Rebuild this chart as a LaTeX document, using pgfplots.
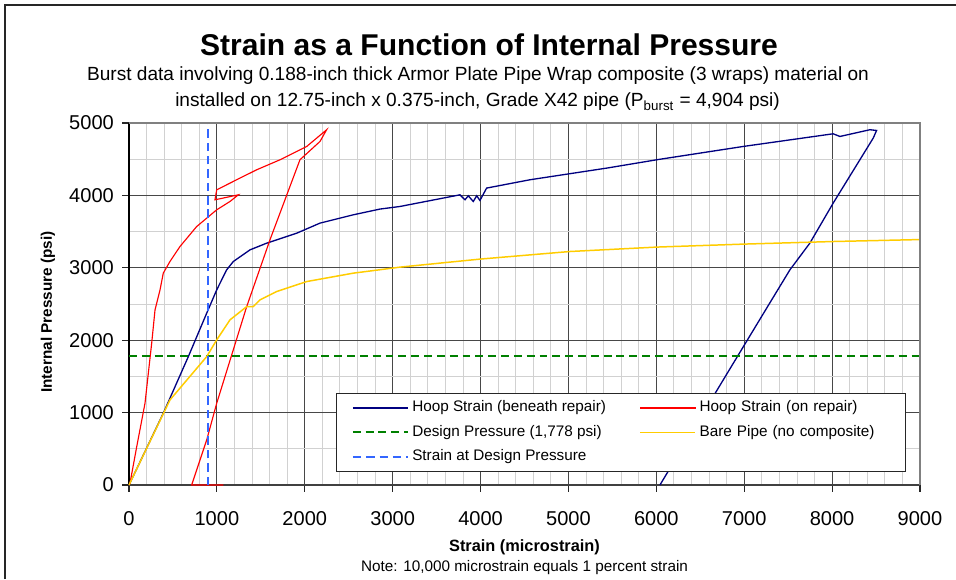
\documentclass[border=0pt]{standalone}
\usepackage{fontspec}
\setmainfont{Liberation Sans}
\usepackage{pgfplots}
\pgfplotsset{compat=1.18}

\definecolor{hoopnavy}{RGB}{0,0,128}
\definecolor{hoopred}{RGB}{255,0,0}
\definecolor{designgreen}{RGB}{0,128,0}
\definecolor{barepipe}{RGB}{255,204,0}
\definecolor{strainblue}{RGB}{51,102,255}

\pgfplotsset{
    navyline/.style={color=hoopnavy, line width=0.75pt},
    redline/.style={color=hoopred, line width=0.65pt},
    greendash/.style={color=designgreen, line width=1.1pt, dash pattern=on 4.5pt off 2.8pt},
    yellowline/.style={color=barepipe, line width=0.85pt},
    bluedash/.style={color=strainblue, line width=1.1pt, dash pattern=on 4.8pt off 2.8pt},
}

\begin{document}
\begin{tikzpicture}
% 1 px of the reference = 0.02 cm
\useasboundingbox (0,0) rectangle (19.12,11.58);
\draw[black!85, line width=0.6pt] (0.1,0) -- (0.1,11.48) -- (19.12,11.48);

% titles
\node[anchor=base, font=\fontsize{17.1}{20}\selectfont\bfseries] at (9.78,10.46)
  {Strain as a Function of Internal Pressure};
\node[anchor=base, font=\fontsize{10.85}{13}\selectfont] at (9.56,9.96)
  {Burst data involving 0.188-inch thick Armor Plate Pipe Wrap composite (3 wraps) material on};
\node[anchor=base, font=\fontsize{10.85}{13}\selectfont] at (9.55,9.44)
  {installed on 12.75-inch x 0.375-inch, Grade X42 pipe (P\textsubscript{burst} = 4,904 psi)};

% axis labels and note
\node[anchor=base, font=\fontsize{9.3}{11}\selectfont\bfseries] at (10.49,0.56)
  {Strain (microstrain)};
\node[anchor=base, font=\fontsize{8.7}{10}\selectfont] at (10.49,0.16)
  {Note: 10,000 microstrain equals 1 percent strain};
\node[rotate=90, font=\fontsize{8.7}{10}\selectfont\bfseries] at (0.96,5.34)
  {Internal Pressure (psi)};

\begin{axis}[
    at={(2.58cm,1.88cm)}, anchor=south west,
    scale only axis,
    width=15.82cm, height=7.24cm,
    xmin=0, xmax=9000, ymin=0, ymax=5000,
    xtick={0,1000,...,9000},
    ytick={0,1000,...,5000},
    minor x tick num=4,
    minor y tick num=1,
    scaled ticks=false,
    /pgf/number format/assume math mode=true,
    /pgf/number format/1000 sep={},
    ticklabel style={font=\fontsize{11.4}{13}\selectfont},
    xticklabel style={yshift=-0.26cm},
    yticklabel style={xshift=-0.04cm},
    grid=both,
    major grid style={black!72, line width=0.5pt},
    minor grid style={black!18, line width=0.5pt},
    axis lines*=left,
    x axis line style={black!75, line width=1.1pt},
    y axis line style={black, line width=0.6pt},
    tick align=outside,
    major tick length=0.14cm,
    minor tick length=0pt,
    tick style={black!85, line width=0.6pt},
    clip=false,
    legend columns=2,
    legend cell align=left,
    legend image code/.code={\draw[#1] (0cm,0cm) -- (1.1cm,0cm);},
    legend style={
        at={(0.2617,0.254)}, anchor=north west,
        draw=black!85, fill=white,
        font=\fontsize{8.7}{10}\selectfont,
        inner xsep=8.8pt, inner ysep=4pt,
        row sep=5.4pt,
        nodes={inner xsep=2pt, inner ysep=0pt,
               text height=6.5pt, text depth=2pt},
        /tikz/every even column/.append style={column sep=0.6cm},
        /tikz/column 4/.style={nodes={text width=3.74cm}},
    },
    after end axis/.code={
        \draw[black!50, line width=0.8pt]
            (rel axis cs:0,1) -- (rel axis cs:1,1) -- (rel axis cs:1,0);
    },
]

% hoop strain beneath repair
\addplot[navyline, forget plot] coordinates {
    (0,0) (390,991) (675,1773) (884,2373) (998,2695) (1111,2972)
    (1187,3087) (1377,3248) (1566,3340) (1908,3478) (2173,3617)
    (2552,3732) (2855,3811) (3083,3847) (3766,4008) (3823,3939)
    (3860,3995) (3917,3916) (3956,3995) (3993,3930) (4069,4101)
    (4562,4216) (5435,4377) (6003,4492) (6989,4676) (8012,4851)
    (8089,4814) (8430,4907) (8506,4897) (8468,4792) (8316,4492)
    (8012,3893) (7747,3341) (7520,2972) (7255,2442) (6761,1451)
    (6041,0)
};

% hoop strain on repair
\addplot[redline, forget plot] coordinates {
    (0,0) (11,23) (88,530) (182,1129) (258,1958) (296,2419) (353,2695)
    (390,2926) (466,3087) (580,3294) (770,3570) (998,3801) (1149,3916)
    (1244,4008) (978,3939) (998,4077) (1225,4216) (1453,4354)
    (1718,4492) (2022,4676) (2249,4907) (2173,4745) (1945,4492)
    (1604,3386) (1339,2464) (998,1129) (884,622) (713,0) (1073,0)
};

% design pressure
\addplot[greendash, forget plot] coordinates {(0,1778) (9000,1778)};

% bare pipe
\addplot[yellowline, forget plot] coordinates {
    (0,0) (466,1175) (884,1773) (998,2004) (1149,2281) (1339,2464)
    (1414,2464) (1490,2557) (1680,2672) (2022,2810) (2552,2926)
    (3083,3009) (3993,3120) (5017,3225) (6003,3286) (6989,3327)
    (8012,3363) (9000,3390)
};

% strain at design pressure
\addplot[bluedash, forget plot] coordinates {(900,0) (900,5000)};

\addlegendimage{navyline}
\addlegendentry{Hoop Strain (beneath repair)}
\addlegendimage{legend image code/.code={
    \path (0cm,0cm);
    \fill[hoopred] (0cm,-0.33pt) rectangle (1.1cm,0.33pt);
    \draw[hoopred, line width=0.65pt] (0cm,0cm) -- (1.1cm,0cm);}}
\addlegendentry{Hoop Strain (on repair)}
\addlegendimage{greendash}
\addlegendentry{Design Pressure (1,778 psi)}
\addlegendimage{yellowline}
\addlegendentry{Bare Pipe (no composite)}
\addlegendimage{bluedash}
\addlegendentry{Strain at Design Pressure}

\end{axis}
\end{tikzpicture}
\end{document}
